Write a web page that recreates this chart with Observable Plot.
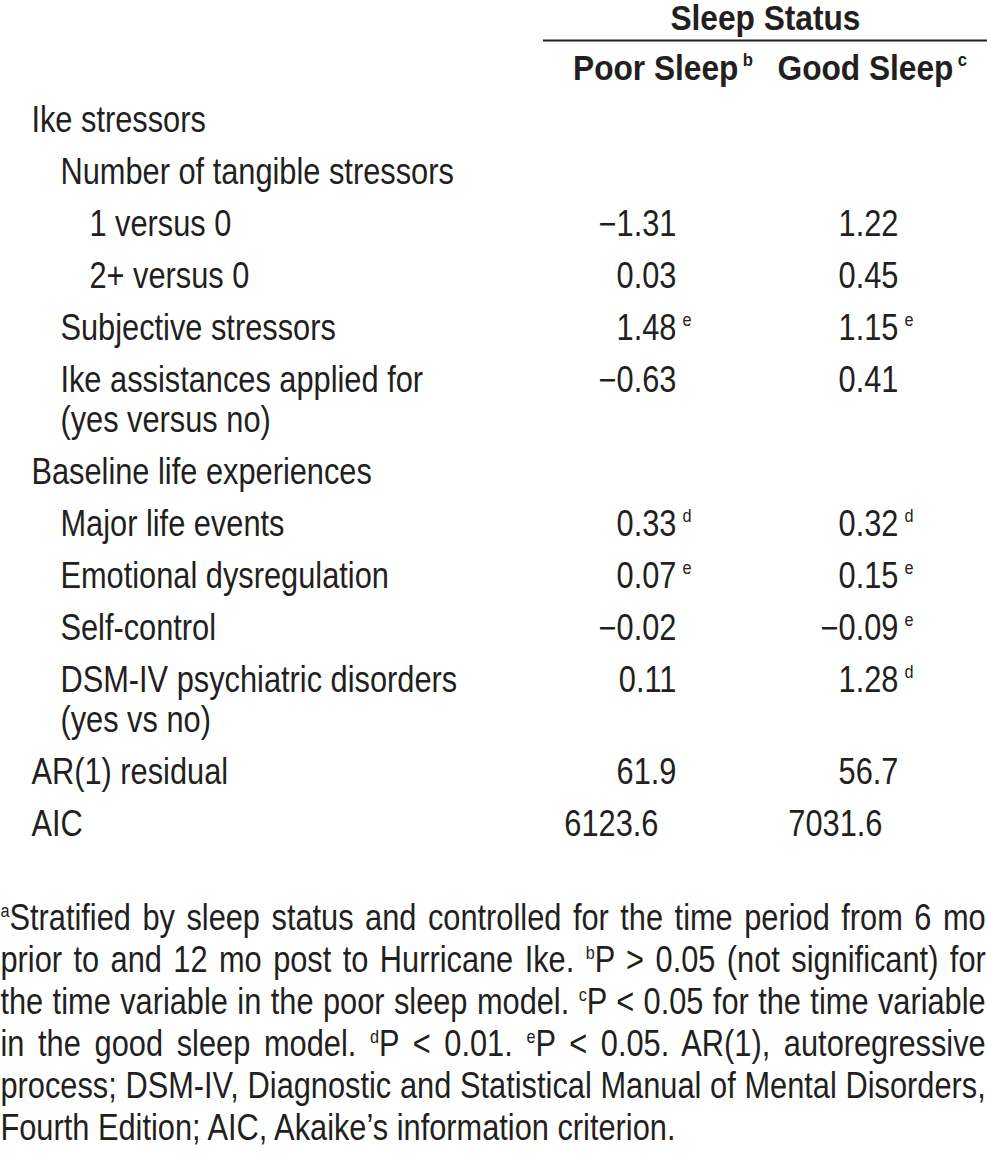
<!DOCTYPE html>
<html><head><meta charset="utf-8">
<script src="https://cdn.jsdelivr.net/npm/d3@7"></script>
<script src="https://cdn.jsdelivr.net/npm/@observablehq/plot@0.6"></script>
<style>
body{margin:0;background:#fff;width:987px;}
</style></head><body><div id="chart"></div>
<script>
// ---- data ----
const groupTitle = "Sleep Status";
const columns = ["Poor Sleep", "Good Sleep"];
const columnSup = ["b", "c"];
const labels = [
  "Ike stressors",
  "Number of tangible stressors",
  "1 versus 0",
  "2+ versus 0",
  "Subjective stressors",
  "Ike assistances applied for\n(yes versus no)",
  "Baseline life experiences",
  "Major life events",
  "Emotional dysregulation",
  "Self-control",
  "DSM-IV psychiatric disorders\n(yes vs no)",
  "AR(1) residual",
  "AIC"
];
const levels = [0, 1, 2, 2, 1, 1, 0, 1, 1, 1, 1, 0, 0];
const poorSleep = [null, null, -1.31, 0.03, 1.48, -0.63, null, 0.33, 0.07, -0.02, 0.11, 61.9, 6123.6];
const poorSup   = ["", "", "", "", "e", "", "", "d", "e", "", "", "", ""];
const goodSleep = [null, null, 1.22, 0.45, 1.15, 0.41, null, 0.32, 0.15, -0.09, 1.28, 56.7, 7031.6];
const goodSup   = ["", "", "", "", "e", "", "", "d", "e", "e", "d", "", ""];
const decimals  = [2, 2, 2, 2, 2, 2, 2, 2, 2, 2, 2, 1, 1];
// footnote lines; ^x marks a superscript letter
const footnote = [
  "^aStratified by sleep status and controlled for the time period from 6 mo",
  "prior to and 12 mo post to Hurricane Ike. ^bP > 0.05 (not significant) for",
  "the time variable in the poor sleep model. ^cP < 0.05 for the time variable",
  "in the good sleep model. ^dP < 0.01. ^eP < 0.05. AR(1), autoregressive",
  "process; DSM-IV, Diagnostic and Statistical Manual of Mental Disorders,",
  "Fourth Edition; AIC, Akaike\u2019s information criterion."
];

// ---- layout (not data) ----
const W = 987, H = 1161;
const FONT = '"Liberation Sans Narrow","Arial Narrow","Liberation Sans",sans-serif';
const FS = 36, SUPFS = 19, INK = "#231f20";
const SQ = 0.855, SQB = 0.88;   // horizontal squeeze for regular / bold (no condensed face installed)
const indentX = [31, 60, 89];
const colRight = [676, 898];
const colRightLast = [658, 882];   // AIC row sits a little left
const headRight = [738, 953];
const groupX = 765, ruleX1 = 543, ruleX2 = 987;
const wrapStep = 40 / 52;
const fnStart = 15.35, fnStep = 42 / 52;

// ---- derived tables ----
let slot = 0;
const rows = labels.map((label, i) => {
  const lines = label.split("\n");
  const r = {i, label, lines, level: levels[i], slot};
  slot += 1 + (lines.length - 1) * wrapStep;
  return r;
});
const labelLines = rows.flatMap(r => r.lines.map((t, k) => ({text: t, level: r.level, slot: r.slot + k * wrapStep})));
const cells = [];
rows.forEach(r => {
  [[poorSleep, poorSup], [goodSleep, goodSup]].forEach(([vals, sups], c) => {
    if (vals[r.i] == null) return;
    cells.push({
      text: d3.format(`.${decimals[r.i]}f`)(vals[r.i]),
      sup: sups[r.i], col: c, slot: r.slot, last: r.i === labels.length - 1
    });
  });
});
const heads = columns.map((t, c) => ({text: t, sup: columnSup[c], col: c, slot: -1}));
const fnRows = footnote.map((t, k) => ({text: t, slot: fnStart + k * fnStep}));
// text marks live in a squeezed group, so their x is expressed in unsqueezed units
const cellX = d => (d.last ? colRightLast[d.col] : colRight[d.col]) / SQ;

const chart = Plot.plot({
  width: W, height: H,
  margin: 0,
  x: {type: "identity", axis: null},
  y: {type: "linear", domain: [0, 1], range: [120, 172], axis: null},
  style: {fontFamily: FONT, color: INK, background: "#fff"},
  marks: [
    Plot.ruleY([-1.54], {x1: ruleX1, x2: ruleX2, stroke: INK, strokeWidth: 2}),
    Plot.text([groupTitle], {x: () => groupX / SQB, y: () => -1.96, text: d => d, fontSize: FS, fontWeight: "bold", fill: INK, textAnchor: "middle"}),
    Plot.text(heads, {x: d => headRight[d.col] / SQB, y: "slot", text: "text", fontSize: FS, fontWeight: "bold", fill: INK, textAnchor: "end"}),
    Plot.text(heads, {x: d => headRight[d.col] / SQB, y: "slot", text: "sup", fontSize: SUPFS, fontWeight: "bold", fill: INK, textAnchor: "start", dx: 5, dy: -9}),
    Plot.text(labelLines, {x: d => indentX[d.level] / SQ, y: "slot", text: "text", fontSize: FS, fill: INK, textAnchor: "start"}),
    Plot.text(cells, {x: cellX, y: "slot", text: "text", fontSize: FS, fill: INK, textAnchor: "end"}),
    Plot.text(cells.filter(d => d.sup), {x: cellX, y: "slot", text: "sup", fontSize: SUPFS, fill: INK, textAnchor: "start", dx: 7, dy: -9}),
    Plot.text(fnRows, {x: () => 0, y: "slot", text: "text", fontSize: FS, fill: INK, textAnchor: "start"})
  ]
});

const NS = "http://www.w3.org/2000/svg";
const textGroups = [...chart.querySelectorAll('g[aria-label="text"]')];
// the last text mark is the footnote: turn ^x markers into superscript tspans
const fnTexts = [...textGroups[textGroups.length - 1].querySelectorAll("text")];
fnTexts.forEach(t => {
  const s = t.textContent;
  t.textContent = "";
  s.split(/(\^[a-e])/).forEach(part => {
    if (!part) return;
    const ts = document.createElementNS(NS, "tspan");
    if (part[0] === "^") {
      ts.textContent = part.slice(1);
      ts.setAttribute("font-size", SUPFS);
      ts.setAttribute("baseline-shift", "13");
    } else ts.textContent = part;
    t.appendChild(ts);
  });
});

// wrap every text-mark group in a horizontally squeezed group
textGroups.forEach(g => {
  const s = g.getAttribute("font-weight") === "bold" ? SQB : SQ;
  const w = document.createElementNS(NS, "g");
  w.setAttribute("transform", `scale(${s},1)`);
  g.parentNode.insertBefore(w, g);
  w.appendChild(g);
});

document.getElementById("chart").append(chart);

// justify footnote lines (all but the last) to the full width
const target = W / SQ - 2;
fnTexts.forEach((t, k) => {
  if (k === fnTexts.length - 1) return;
  const n = (t.textContent.match(/ /g) || []).length;
  const L = t.getComputedTextLength();
  if (n > 0) t.setAttribute("word-spacing", ((target - L) / n).toFixed(2));
});
</script>
</body></html>
